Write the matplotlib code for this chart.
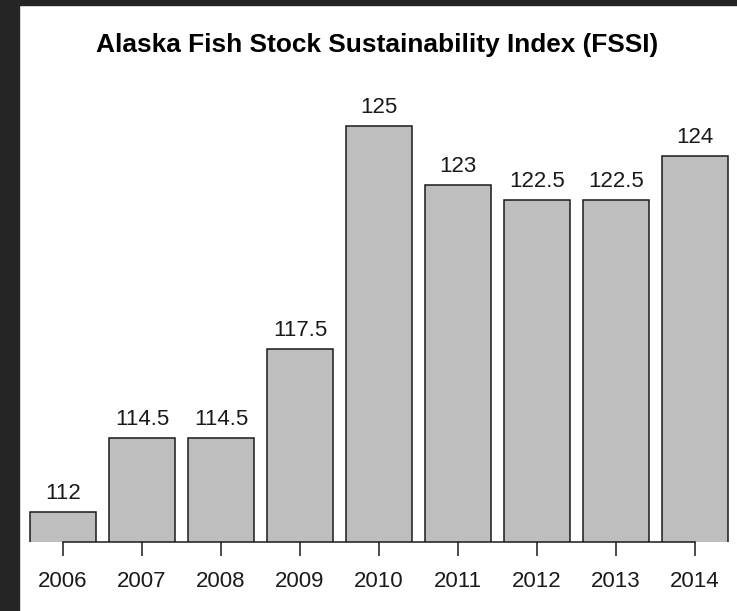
import matplotlib
matplotlib.use("Agg")
import matplotlib.pyplot as plt
from matplotlib.patches import Rectangle

years = ["2006", "2007", "2008", "2009", "2010", "2011", "2012", "2013", "2014"]
values = [112, 114.5, 114.5, 117.5, 125, 123, 122.5, 122.5, 124]
labels = ["112", "114.5", "114.5", "117.5", "125", "123", "122.5", "122.5", "124"]

plt.rcParams['font.family'] = ['Liberation Sans', 'DejaVu Sans']

W, H = 737, 611
fig = plt.figure(figsize=(W / 100, H / 100), dpi=100)
fig.patch.set_facecolor('white')
# dark frame (left and top)
fig.patches.append(Rectangle((0, 0), 19 / W, 1, transform=fig.transFigure, color='#252525', zorder=-10))
fig.patches.append(Rectangle((0, 1 - 5 / H), 1, 5 / H, transform=fig.transFigure, color='#252525', zorder=-10))

left_px, right_px = 20, 737
bottom_px, top_px = 542, 60
ax = fig.add_axes([left_px / W, (H - bottom_px) / H, (right_px - left_px) / W, (bottom_px - top_px) / H])
ax.set_facecolor('none')

x = list(range(len(years)))
ax.bar(x, [v - 100 for v in values], bottom=100, width=0.835, color='#bebebe', edgecolor='#1a1a1a', linewidth=1.1)
ax.set_xlim(-0.544, 8.532)
ymin = 111.0
ymax = 125 + (126 - top_px) / 29.7
ax.set_ylim(ymin, ymax)

for xi, v, lab in zip(x, values, labels):
    ax.text(xi, v + 0.44, lab, ha='center', va='baseline', fontsize=16, color='#1a1a1a')

for s in ['top', 'right', 'left']:
    ax.spines[s].set_visible(False)
ax.spines['bottom'].set_bounds(0, 8)
ax.spines['bottom'].set_color('#1a1a1a')
ax.spines['bottom'].set_linewidth(1.1)
ax.set_yticks([])
ax.set_xticks(x)
ax.set_xticklabels(years, fontsize=16, color='#1a1a1a')
ax.tick_params(axis='x', length=10, width=1.1, color='#1a1a1a', pad=11)

fig.text((97 + 657) / 2 / W, 1 - 52 / H, "Alaska Fish Stock Sustainability Index (FSSI)",
         ha='center', va='baseline', fontsize=18.9, fontweight='bold', color='black')

fig.savefig("out.png", dpi=100)
